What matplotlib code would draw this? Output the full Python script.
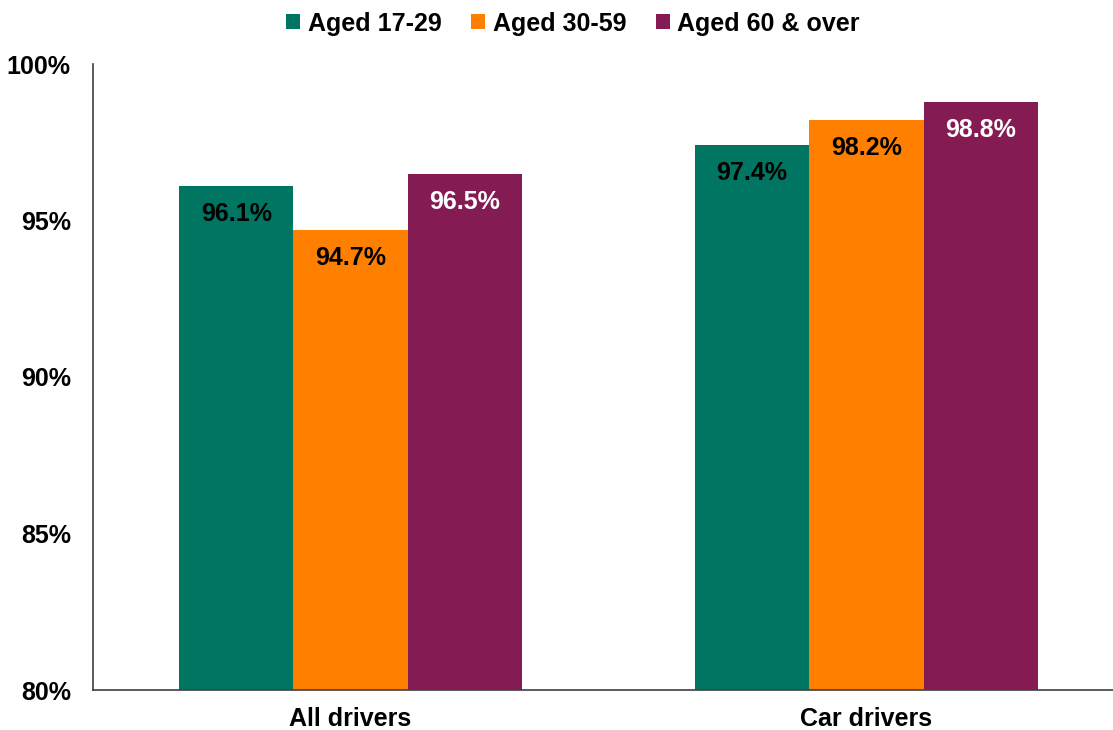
import numpy as np
import matplotlib
matplotlib.use('Agg')
import matplotlib.pyplot as plt
from matplotlib.patches import Patch

plt.rcParams['font.family'] = ['Liberation Sans', 'DejaVu Sans']
plt.rcParams['font.weight'] = 'bold'

categories = ['All drivers', 'Car drivers']
series = ['Aged 17-29', 'Aged 30-59', 'Aged 60 & over']
values = [
    [96.1, 97.4],
    [94.7, 98.2],
    [96.5, 98.8],
]
colors = ['#007561', '#FF8000', '#841C53']
label_colors = ['black', 'black', 'white']
yticks = [80, 85, 90, 95, 100]

fig = plt.figure(figsize=(11.13, 7.30), dpi=100)
ax = fig.add_axes([93 / 1113, 1 - 690 / 730, 1 - 93 / 1113, (690 - 64) / 730])

x = np.arange(len(categories))
w = 0.2215
for i, (name, vals) in enumerate(zip(series, values)):
    pos = x + (i - 1) * w
    bars = ax.bar(pos, vals, width=w, color=colors[i], label=name, zorder=2)
    for b, v in zip(bars, vals):
        ax.annotate('%.1f%%' % v, (b.get_x() + b.get_width() / 2, v),
                    xytext=(0, -28), textcoords='offset pixels',
                    ha='center', va='center', fontsize=18, fontweight='bold',
                    color=label_colors[i])

ax.set_ylim(80, 100)
ax.set_xlim(-0.499, 1.478)
ax.set_yticks(yticks)
ax.set_yticklabels(['%d%%' % t for t in yticks], fontsize=18, fontweight='bold')
ax.set_xticks(x)
ax.set_xticklabels(categories, fontsize=18, fontweight='bold')
ax.tick_params(axis='both', length=0)
ax.tick_params(axis='y', pad=16)
ax.tick_params(axis='x', pad=12)
for s in ['top', 'right']:
    ax.spines[s].set_visible(False)
for s in ['left', 'bottom']:
    ax.spines[s].set_color('#404040')
    ax.spines[s].set_linewidth(1.2)

handles = [Patch(facecolor=c, label=n) for c, n in zip(colors, series)]
fig.legend(handles=handles, loc='upper center', bbox_to_anchor=(0.515, 1.015),
           ncol=3, frameon=False, handlelength=0.55, handleheight=0.55,
           handletextpad=0.3, columnspacing=1.2, prop={'weight': 'bold', 'size': 18})

fig.savefig('out.png', dpi=100)
